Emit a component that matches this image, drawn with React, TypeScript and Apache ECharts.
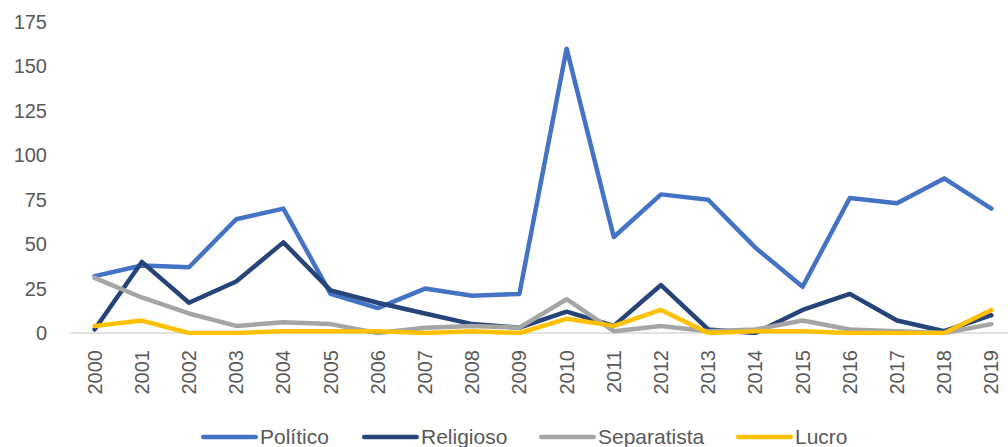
import React, { useEffect, useRef } from "react";
import * as echarts from "echarts";

const years = ["2000","2001","2002","2003","2004","2005","2006","2007","2008","2009","2010","2011","2012","2013","2014","2015","2016","2017","2018","2019"];
const politico = [32, 38, 37, 64, 70, 22, 14, 25, 21, 22, 160, 54, 78, 75, 48, 26, 76, 73, 87, 70];
const religioso = [2, 40, 17, 29, 51, 24, 17, 11, 5, 3, 12, 4, 27, 2, 0, 13, 22, 7, 1, 10];
const separatista = [31, 20, 11, 4, 6, 5, 0, 3, 4, 3, 19, 1, 4, 1, 2, 7, 2, 1, 0, 5];
const lucro = [4, 7, 0, 0, 1, 1, 1, 0, 1, 0, 8, 4, 13, 0, 1, 1, 0, 0, 0, 13];
const yTicks = [0, 25, 50, 75, 100, 125, 150, 175];

const seriesDefs = [
  { name: "Político", data: politico, color: "#4472C4" },
  { name: "Religioso", data: religioso, color: "#264478" },
  { name: "Separatista", data: separatista, color: "#A5A5A5" },
  { name: "Lucro", data: lucro, color: "#FFC000" },
];
const legendLefts = [201, 362, 539, 736];

const FONT = "'Liberation Sans', sans-serif";

export default function App() {
  const ref = useRef<HTMLDivElement>(null);
  useEffect(() => {
    if (!ref.current) return;
    const chart = echarts.init(ref.current, null, { renderer: "svg" });
    const legendGraphics: any[] = [];
    seriesDefs.forEach((s, i) => {
      const x0 = legendLefts[i];
      legendGraphics.push({
        type: "rect",
        x: x0,
        y: 434.7,
        shape: { x: 0, y: 0, width: 57, height: 4.6, r: 2.3 },
        style: { fill: s.color },
        silent: true,
      });
      legendGraphics.push({
        type: "text",
        x: x0 + 59,
        y: 436,
        style: {
          text: s.name,
          x: 0,
          y: 0,
          fill: "#595959",
          font: "21px 'Liberation Sans', sans-serif",
          verticalAlign: "middle",
          align: "left",
        },
        silent: true,
      });
    });
    chart.setOption({
      animation: false,
      grid: { left: 71, width: 944, top: 22, bottom: 114, containLabel: false, outerBoundsMode: "none" },
      graphic: legendGraphics,
      xAxis: {
        type: "category",
        data: years,
        boundaryGap: true,
        axisLine: { lineStyle: { color: "#D9D9D9", width: 1.5 } },
        axisTick: { show: false },
        axisLabel: { rotate: 90, color: "#595959", fontSize: 20, fontFamily: FONT, margin: 17, interval: 0 },
      },
      yAxis: {
        type: "value",
        min: yTicks[0],
        max: yTicks[yTicks.length - 1],
        interval: 25,
        splitLine: { show: false },
        axisLine: { show: false },
        axisTick: { show: false },
        axisLabel: { color: "#595959", fontSize: 20, fontFamily: FONT, margin: 24 },
      },
      series: seriesDefs.map((s) => ({
        name: s.name,
        type: "line",
        data: s.data,
        symbol: "none",
        lineStyle: { color: s.color, width: 4.5, cap: "round", join: "round" },
        itemStyle: { color: s.color },
      })),
    });
    return () => chart.dispose();
  }, []);
  return <div ref={ref} style={{ width: 1008, height: 447, position: "absolute", left: 0, top: 0 }} />;
}
